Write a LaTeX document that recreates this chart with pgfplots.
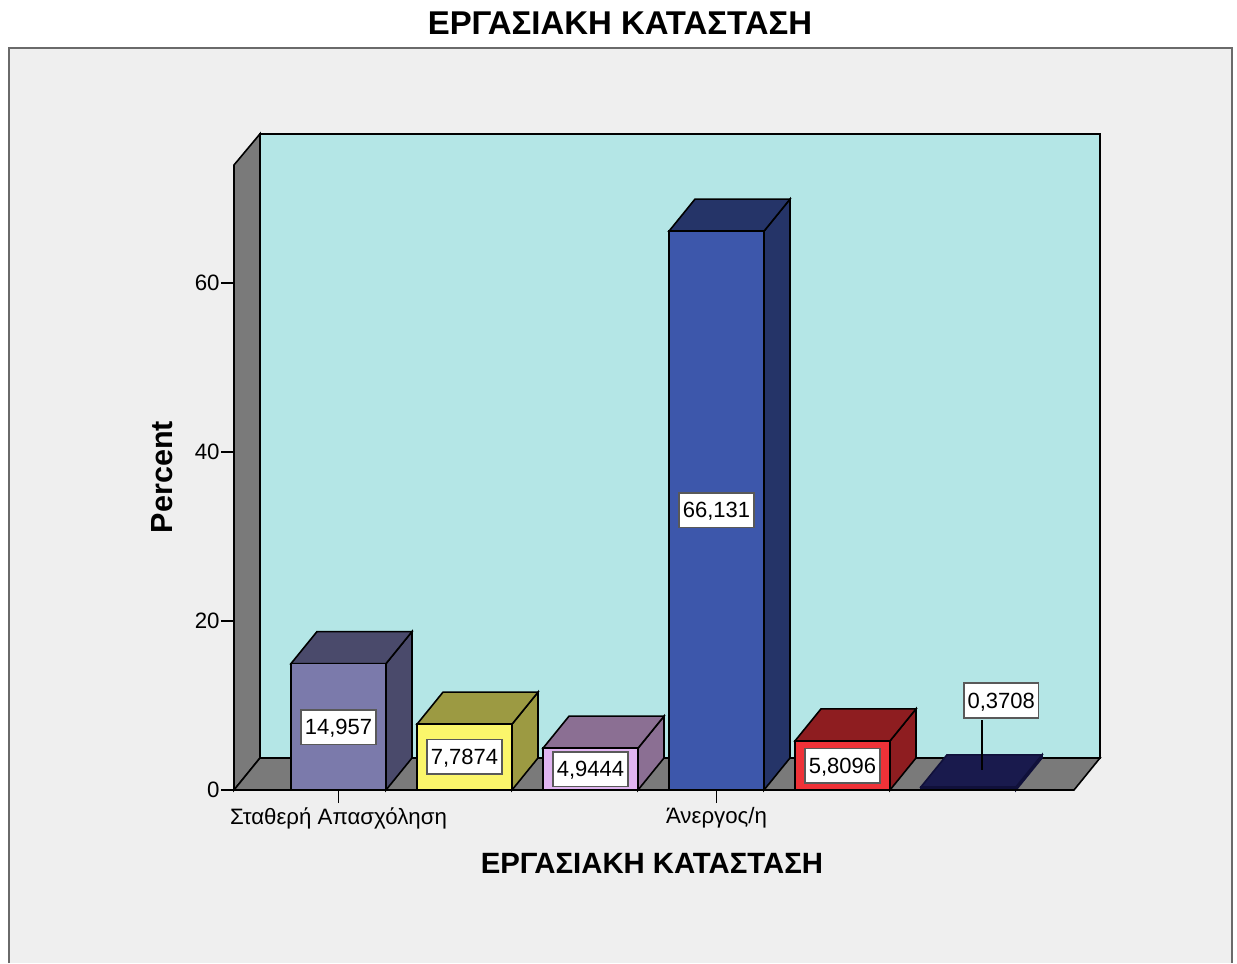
\documentclass[border=0pt]{standalone}
\usepackage{fontspec}
\setmainfont{Liberation Sans}
\usepackage{pgfplots}
\pgfplotsset{compat=1.18}

\definecolor{panel}{HTML}{EFEFEF}
\definecolor{wall}{HTML}{B4E6E6}
\definecolor{floorgray}{HTML}{7A7A7A}
\definecolor{edgegray}{HTML}{6A6A6A}
\definecolor{bar1}{HTML}{7B7AAB}
\definecolor{bar1d}{HTML}{4A4A6B}
\definecolor{bar2}{HTML}{FBF66B}
\definecolor{bar2d}{HTML}{9C9A42}
\definecolor{bar3}{HTML}{E0B4F0}
\definecolor{bar3d}{HTML}{8B6F93}
\definecolor{bar4}{HTML}{3D57AB}
\definecolor{bar4d}{HTML}{253468}
\definecolor{bar5}{HTML}{EF3238}
\definecolor{bar5d}{HTML}{8E1D20}
\definecolor{bar6}{HTML}{10103A}
\definecolor{bar6d}{HTML}{191A4D}

% depth of the 3d look, in data units: 26px across, 32px up
\def\dpx{0.2063}
\def\dpy{3.79}
\def\hw{0.377}
\def\edgecol{black}

% x, value, front, top and side colours
\newcommand{\threedbar}[5]{%
  \pgfmathsetmacro\xa{#1-\hw}%
  \pgfmathsetmacro\xb{#1+\hw}%
  \pgfmathsetmacro\xc{#1-\hw+\dpx}%
  \pgfmathsetmacro\xd{#1+\hw+\dpx}%
  \pgfmathsetmacro\vt{#2+\dpy}%
  \edef\tmp{\noexpand\addplot[face,draw=\edgecol,fill=#5] coordinates {(\xb,0) (\xd,\dpy) (\xd,\vt) (\xb,#2)} --cycle;}\tmp
  \edef\tmp{\noexpand\addplot[face,draw=\edgecol,fill=#4] coordinates {(\xa,#2) (\xc,\vt) (\xd,\vt) (\xb,#2)} --cycle;}\tmp
  \edef\tmp{\noexpand\addplot[ybar,bar width=71.25pt,bar shift=0pt,draw=\edgecol,line width=1.2pt,fill=#3] coordinates {(#1,#2)};}\tmp
}

\begin{document}
\begin{tikzpicture}[
  lab/.style={draw=black!65,line width=1.3pt,fill=white,inner sep=0pt,text depth=0pt,
    minimum width=56pt,minimum height=26pt,font=\fontsize{16.5}{17}\selectfont},
  face/.style={draw=black,line width=1.2pt,line join=miter,mark=none},
]
\path[use as bounding box] (-175.5pt,-129.75pt) rectangle (752.25pt,592.5pt);
\fill[panel] (-168.75pt,-129.75pt) rectangle (748.5pt,556.5pt);
\draw[edgegray,line width=1.9pt] (-168.75pt,-129.75pt) -- (-168.75pt,556.5pt) -- (748.5pt,556.5pt) -- (748.5pt,-129.75pt);

\begin{axis}[
  at={(0pt,0pt)},anchor=south west,
  scale only axis,width=630pt,height=468.75pt,
  xmin=-0.8294,xmax=5.8373,ymin=0,ymax=73.96,
  axis x line=bottom,axis y line=left,
  axis line style={-,black,line width=1.2pt},
  axis on top,clip=false,
  tick align=outside,
  major tick length=9.75pt,
  tick style={black,line width=1.4pt},
  xtick={0,3},
  xticklabels={Σταθερή Απασχόληση,Άνεργος/η},
  ytick={0,20,40,60},
  /pgf/number format/assume math mode=true,
  tick label style={font=\fontsize{16.7}{18}\selectfont},
  yticklabel style={xshift=2.5pt},
  every axis title shift=0pt,
  title={ΕΡΓΑΣΙΑΚΗ ΚΑΤΑΣΤΑΣΗ},
  title style={at={(axis description cs:0.4595,1.2272)},anchor=center,inner sep=0pt,
    font=\bfseries\fontsize{24.7}{28}\selectfont},
  xlabel={ΕΡΓΑΣΙΑΚΗ ΚΑΤΑΣΤΑΣΗ},
  xlabel style={at={(axis description cs:0.4976,-0.1168)},anchor=center,inner sep=0pt,
    font=\bfseries\fontsize{22}{24}\selectfont},
  ylabel={Percent},
  ylabel style={at={(axis description cs:-0.0857,0.5008)},anchor=center,inner sep=0pt,
    font=\bfseries\fontsize{22.9}{25}\selectfont},
]
% walls and floor
\addplot[face,fill=wall] coordinates {(-0.6231,3.79) (6.0436,3.79) (6.0436,77.64) (-0.6231,77.64)} --cycle;
\addplot[face,fill=floorgray] coordinates {(-0.8294,0) (-0.6231,3.79) (-0.6231,77.64) (-0.8294,73.96)} --cycle;
\addplot[face,fill=floorgray] coordinates {(-0.8294,0) (-0.6231,3.79) (6.0436,3.79) (5.8373,0)} --cycle;

\threedbar{0}{14.957}{bar1}{bar1d}{bar1d}
\threedbar{1}{7.7874}{bar2}{bar2d}{bar2d}
\threedbar{2}{4.9444}{bar3}{bar3d}{bar3d}
\threedbar{3}{66.131}{bar4}{bar4d}{bar4d}
\threedbar{4}{5.8096}{bar5}{bar5d}{bar5d}
\def\edgecol{bar6}
\threedbar{5}{0.3708}{bar6}{bar6d}{bar6d}

\draw[black,line width=1.2pt] (axis cs:5.105,2.4) -- (axis cs:5.105,8.3);
\node[lab] at (axis cs:0,7.45) {14,957};
\node[lab] at (axis cs:1,3.94) {7,7874};
\node[lab] at (axis cs:2,2.48) {4,9444};
\node[lab] at (axis cs:3,33.1) {66,131};
\node[lab] at (axis cs:4,2.86) {5,8096};
\node[lab] at (axis cs:5.26,10.6) {0,3708};
\end{axis}
\end{tikzpicture}
\end{document}
